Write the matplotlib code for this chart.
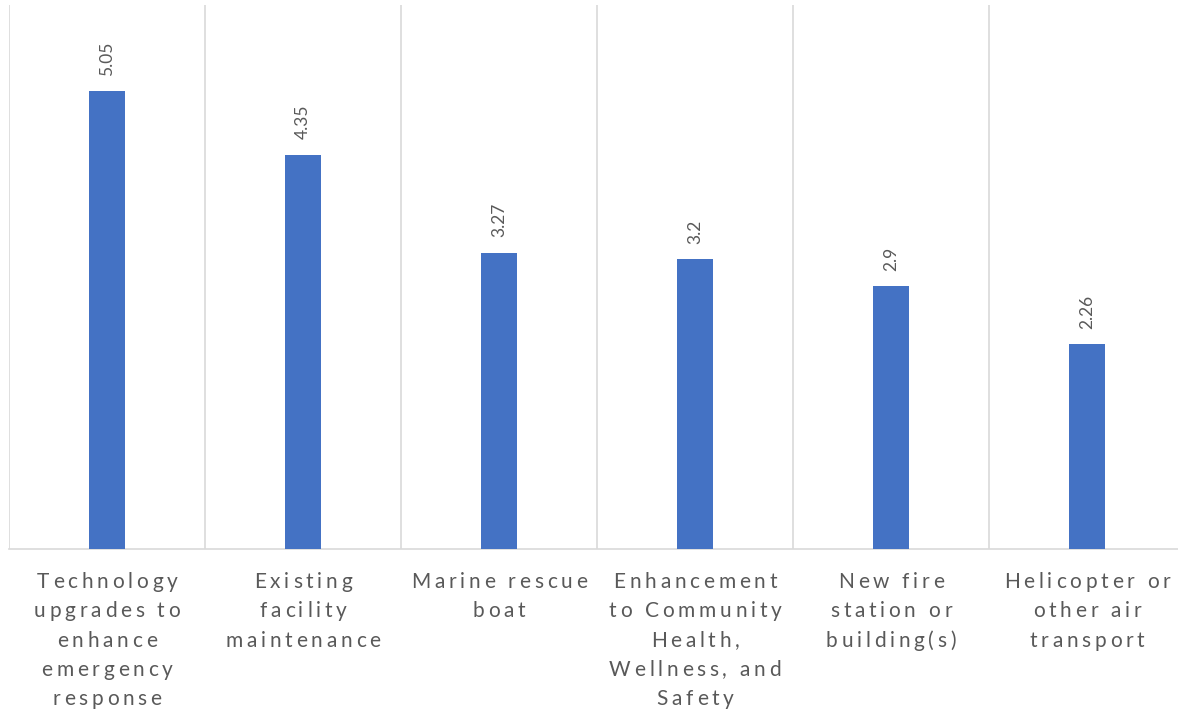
import matplotlib
matplotlib.use("Agg")
import matplotlib.pyplot as plt
from matplotlib import font_manager
from matplotlib.ft2font import FT2Font

# priorities and their average scores
categories = [
    "Technology\nupgrades to\nenhance\nemergency\nresponse",
    "Existing\nfacility\nmaintenance",
    "Marine rescue\nboat",
    "Enhancement\nto Community\nHealth,\nWellness, and\nSafety",
    "New fire\nstation or\nbuilding(s)",
    "Helicopter or\nother air\ntransport",
]
values = [5.05, 4.35, 3.27, 3.2, 2.9, 2.26]

BAR = "#4472C4"
GRID = "#D9D9D9"
TEXT = "#595959"
FAMILY = "Lato"

fig = plt.figure(figsize=(11.78, 7.09), dpi=100)
ax = fig.add_axes([9 / 1178, 160 / 709, 1176 / 1178, 544 / 709])

x = range(len(values))
ax.bar(x, values, width=0.185, color=BAR, zorder=3)
ax.vlines([i - 0.5 for i in range(len(values) + 1)], 0, 6, colors=GRID, lw=1.2, zorder=1)

ax.set_xlim(-0.5, len(values) - 0.5)
ax.set_ylim(0, 6)
for s in ["top", "left", "right"]:
    ax.spines[s].set_visible(False)
ax.spines["bottom"].set_color(GRID)
ax.spines["bottom"].set_linewidth(1.2)
ax.set_xticks([])
ax.set_yticks([])

for i, v in enumerate(values):
    ax.annotate(str(v), (i, v), xytext=(0, 11), textcoords="offset points",
                rotation=90, ha="center", va="bottom", fontsize=12.5,
                family=FAMILY, color=TEXT)

# category labels with wide letter spacing, one glyph at a time
font_path = font_manager.findfont(font_manager.FontProperties(family=FAMILY))
LABEL_SIZE = 15
TRACK = 3.7
LINE_H = 29.3


def tracked_line(cx, y, line):
    ft = FT2Font(font_path, hinting_factor=1)
    ft.set_size(LABEL_SIZE, fig.dpi)
    adv = [ft.load_char(ord(ch)).linearHoriAdvance / 65536 for ch in line]
    total = sum(adv) + TRACK * (len(line) - 1)
    px = cx - total / 2
    for ch, a in zip(line, adv):
        fig.text(px / fig.dpi, y / fig.dpi, ch, transform=fig.dpi_scale_trans,
                 fontsize=LABEL_SIZE, family=FAMILY, color=TEXT,
                 ha="left", va="baseline")
        px += a + TRACK


for i, label in enumerate(categories):
    cx, y0 = ax.transData.transform((i, 0))
    for k, line in enumerate(label.split("\n")):
        tracked_line(cx, y0 - 39 - k * LINE_H, line)

fig.savefig("out.png", dpi=100)
